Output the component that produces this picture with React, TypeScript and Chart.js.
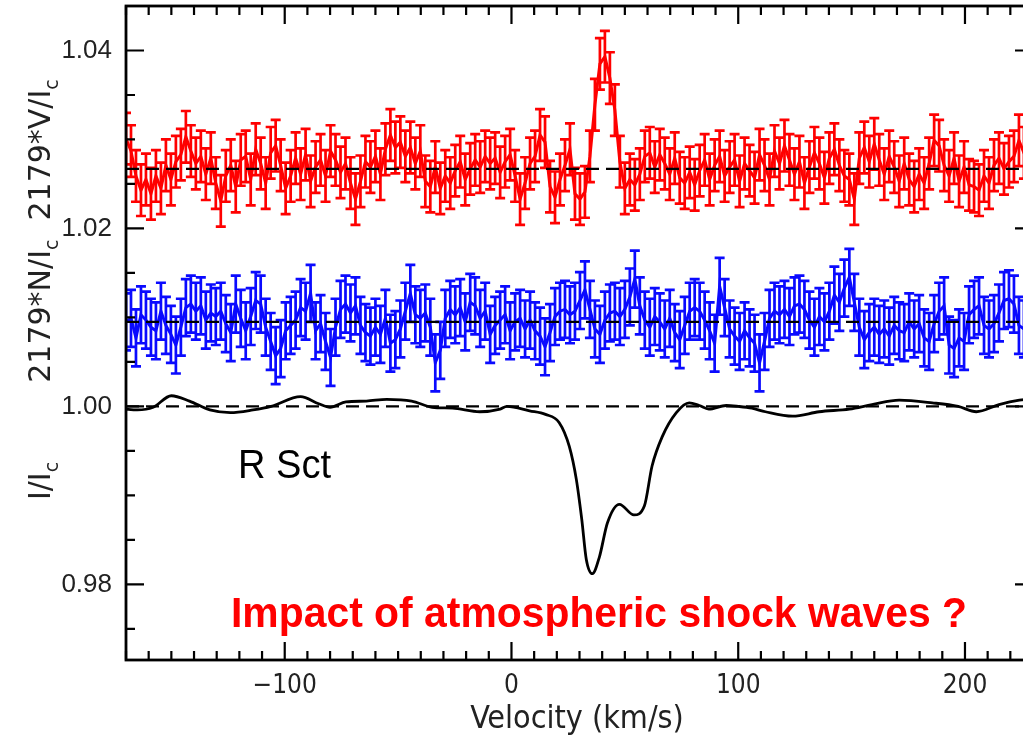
import React, { useEffect, useRef } from "react";
import { Chart, registerables } from "chart.js";
Chart.register(...registerables);

// ---- data ----
const V0 = -170; // first velocity sample (km/s)
const DV = 2.2; // velocity step (km/s)
const RED_BASE = 1.0267; // 2179*V/Ic offset level
const BLUE_BASE = 1.0095; // 2179*N/Ic offset level
const I_BASE = 1.0;
const RED_ERR = 0.0029;
const BLUE_ERR = 0.0032;

// Stokes V (red), offsets from RED_BASE in units of 1e-4
const RED_OFF = [
  34, 20, -8, -24, -12, -28, -8, -22, 4, -12,
  8, 16, 36, 20, 6, 14, -6, 12, -16, -36,
  -8, 4, -20, 10, 14, -12, 22, 6, -16, 18,
  26, 4, -22, -8, 12, -6, 16, -14, 2, 10,
  -8, 20, 10, -4, 6, -16, -34, -14, 8, 2,
  14, -6, 22, 38, 24, 30, 14, 24, 6, 20,
  -14, -20, 2, -22, -8, -16, -2, 8, -12, 0,
  10, 2, 14, 6, 12, -4, 8, 16, -8, -34,
  -16, 6, 14, 38, 30, -20, -32, -12, 4, 22,
  -28, -34, -26, 14, 72, 118, 126, 102, 66, 8,
  -22, -12, -18, -6, 14, 18, 2, 16, 6, -6,
  12, -10, -16, -4, -18, -2, 10, -12, 4, 14,
  -8, 2, 10, -14, 6, -2, -10, 16, 4, -12,
  20, 6, 26, 10, -6, 8, -16, 2, 18, 6,
  -10, 12, 22, 4, -8, -12, -34, 12, 24, 8,
  28, 10, -6, 14, 2, -14, 6, -12, -20, -6,
  -16, 6, 32, 26, 4, -8, 12, -14, 2, -18,
  -20, -24, -8, -16, 4, 12, 0, 8, 14, 32,
  18, 6,
];

// Null profile N (blue), offsets from BLUE_BASE in units of 1e-4
const BLUE_OFF = [
  0, 4, -18, 8, 2, -6, -10, 12, -4, -14,
  -26, -6, 16, 20, 12, 18, 2, 10, 6, 12,
  -2, -12, 20, 4, -10, 6, 24, 20, -6, -22,
  -38, -30, -10, -4, 2, 16, 12, 32, -10, -2,
  -22, -40, -6, 14, 20, 10, 18, -4, -12, -16,
  -6, -14, 4, -24, -20, -8, 12, 32, 8, 4,
  10, -6, -46, -32, 4, 14, 8, 16, 0, 22,
  18, 4, 12, -14, -4, 2, 8, -10, 0, 4,
  -8, 2, -10, -16, -28, -12, 6, 12, 14, 8,
  12, 24, 36, 14, -8, -14, 2, 10, 12, 6,
  14, 28, 48, 18, 2, -6, 6, 0, -8, 4,
  -12, -20, -4, 12, 16, 12, 2, -10, -24, 40,
  16, -8, -16, -22, -10, -18, -24, -46, -22, 4,
  12, 8, 14, 6, 18, 20, 14, 2, -6, 6,
  0, 12, 30, 22, 38, 50, 22, -6, -20, -12,
  -6, -14, -8, -16, -4, -10, -12, 0, -8, -2,
  -18, -22, -2, 12, 18, -26, -30, -18, -22, 8,
  14, 18, -4, -8, -2, 10, 24, 26, 20, -4,
  -8, 6,
];

// Intensity profile I/Ic (black)
const I_VEL = [
  -171, -165, -158, -150, -142, -133, -124, -114, -106, -93, -85, -80, -73, -64, -55, -44,
  -35, -26, -14, -5, -2, 8, 15, 21, 25.5, 28.6, 31, 33, 35.7, 38.8, 42.3, 47.6, 54,
  58.6, 62, 66.5, 72.7, 78.4, 82.8, 87, 94.7, 100, 106, 112, 124, 135.7, 149, 159, 171,
  185.6, 197, 205, 215, 224, 232,
];
const I_VAL = [
  0.9997, 0.9996, 0.9999, 1.0012, 1.0006, 0.9996, 0.9993, 0.9996, 1.0, 1.0011, 1.0003, 0.9999,
  1.0005, 1.0006, 1.0008, 1.0006, 0.9999, 0.9998, 0.9994, 0.9997, 1.0, 0.9995, 0.9991, 0.9982,
  0.9955, 0.9918, 0.9873, 0.9828, 0.9812, 0.9831, 0.9869, 0.989, 0.9878, 0.9888, 0.9933,
  0.9966, 0.9993, 1.0004, 1.0001, 0.9997, 1.0001, 1.0, 0.9998, 0.9994, 0.9989, 0.9994,
  0.9997, 1.0002, 1.0007, 1.0004, 1.0, 0.9994, 1.0002, 1.0007, 1.0009,
];

const X_MIN = -170;
const X_MAX = 230;
const Y_MIN = 0.9715;
const Y_MAX = 1.045;
const X_MAJOR = [-100, 0, 100, 200];
const X_MINOR = [
  -170, -160, -150, -140, -130, -120, -110, -90, -80, -70, -60, -50, -40, -30, -20, -10,
  10, 20, 30, 40, 50, 60, 70, 80, 90, 110, 120, 130, 140, 150, 160, 170, 180, 190, 210, 220, 230,
];
const Y_MAJOR = [0.98, 1.0, 1.02, 1.04];
const Y_MINOR = [0.975, 0.985, 0.99, 0.995, 1.005, 1.01, 1.015, 1.025, 1.03, 1.035, 1.045];

const RED = "#ff0000";
const BLUE = "#0a0aff";

const redPts = RED_OFF.map((o, i) => ({ x: V0 + i * DV, y: RED_BASE + o * 1e-4 }));
const bluePts = BLUE_OFF.map((o, i) => ({ x: V0 + i * DV, y: BLUE_BASE + o * 1e-4 }));
const iPts = I_VEL.map((v, i) => ({ x: v, y: I_VAL[i] }));

const CW = 1035;
const CH = 742;

type Seg = { t: string; sub?: boolean };

function drawRotated(ctx: CanvasRenderingContext2D, segs: Seg[], cx: number, cy: number, size: number, family: string) {
  ctx.save();
  ctx.translate(cx, cy);
  ctx.rotate(-Math.PI / 2);
  ctx.fillStyle = "#222";
  ctx.textBaseline = "alphabetic";
  ctx.textAlign = "left";
  const widths = segs.map((s) => {
    ctx.font = `${s.sub ? Math.round(size * 0.62) : size}px ${family}`;
    return ctx.measureText(s.t).width;
  });
  const total = widths.reduce((a, b) => a + b, 0);
  let x = -total / 2;
  segs.forEach((s, i) => {
    ctx.font = `${s.sub ? Math.round(size * 0.62) : size}px ${family}`;
    ctx.fillText(s.t, x, s.sub ? size * 0.25 : 0);
    x += widths[i];
  });
  ctx.restore();
}

const errorBars = {
  id: "errorBars",
  beforeDatasetsDraw(chart: any) {
    const { ctx, chartArea } = chart;
    const xs = chart.scales.x;
    const ys = chart.scales.y;
    ctx.save();
    ctx.beginPath();
    ctx.rect(chartArea.left, chartArea.top, chartArea.right - chartArea.left, chartArea.bottom - chartArea.top);
    ctx.clip();
    const sets: [typeof redPts, number, string][] = [
      [redPts, RED_ERR, RED],
      [bluePts, BLUE_ERR, BLUE],
    ];
    ctx.lineWidth = 2.7;
    sets.forEach(([pts, err, col]) => {
      ctx.strokeStyle = col;
      ctx.beginPath();
      pts.forEach((p) => {
        const px = xs.getPixelForValue(p.x);
        const y1 = ys.getPixelForValue(p.y + err);
        const y2 = ys.getPixelForValue(p.y - err);
        ctx.moveTo(px, y1);
        ctx.lineTo(px, y2);
        ctx.moveTo(px - 5, y1);
        ctx.lineTo(px + 5, y1);
        ctx.moveTo(px - 5, y2);
        ctx.lineTo(px + 5, y2);
      });
      ctx.stroke();
    });
    ctx.restore();
  },
};

const frameAndText = {
  id: "frameAndText",
  afterDraw(chart: any) {
    const { ctx, chartArea } = chart;
    const xs = chart.scales.x;
    const ys = chart.scales.y;
    const { left, right, top, bottom } = chartArea;
    ctx.save();
    ctx.strokeStyle = "#000";
    ctx.lineWidth = 2.2;
    ctx.beginPath();
    const tick = (vals: number[], len: number) => {
      vals.forEach((v) => {
        const px = xs.getPixelForValue(v);
        ctx.moveTo(px, bottom);
        ctx.lineTo(px, bottom - len);
        ctx.moveTo(px, top);
        ctx.lineTo(px, top + len);
      });
    };
    const ytick = (vals: number[], len: number) => {
      vals.forEach((v) => {
        const py = ys.getPixelForValue(v);
        ctx.moveTo(left, py);
        ctx.lineTo(left + len, py);
        ctx.moveTo(right, py);
        ctx.lineTo(right - len, py);
      });
    };
    tick(X_MAJOR, 18);
    tick(X_MINOR, 9);
    ytick(Y_MAJOR, 18);
    ytick(Y_MINOR, 9);
    ctx.stroke();
    ctx.lineWidth = 2.8;
    ctx.strokeRect(left, top, right - left, bottom - top);

    // axis titles
    drawRotated(ctx, [{ t: "I/I" }, { t: "c", sub: true }], 50, 481, 30, "'DejaVu Sans', sans-serif");
    drawRotated(
      ctx,
      [{ t: "2179*N/I" }, { t: "c", sub: true }, { t: "  2179*V/I" }, { t: "c", sub: true }],
      50,
      231,
      30,
      "'DejaVu Sans', sans-serif"
    );
    ctx.fillStyle = "#222";
    ctx.textAlign = "center";
    ctx.textBaseline = "middle";
    ctx.font = "32px 'DejaVu Sans Condensed', 'Liberation Sans Narrow', sans-serif";
    ctx.fillText("Velocity (km/s)", 577, 720);

    // annotations
    ctx.fillStyle = "#000";
    ctx.textAlign = "left";
    ctx.textBaseline = "alphabetic";
    ctx.font = "40px 'Liberation Sans', sans-serif";
    ctx.fillText("R Sct", 238, 478, 93);
    ctx.fillStyle = RED;
    ctx.font = "bold 43px 'Liberation Sans', sans-serif";
    ctx.fillText("Impact of atmospheric shock waves ?", 231, 627, 736);
    ctx.restore();
  },
};

export default function App() {
  const ref = useRef<HTMLCanvasElement | null>(null);
  useEffect(() => {
    if (!ref.current) return;
    const hline = (y: number) => [
      { x: X_MIN, y },
      { x: X_MAX, y },
    ];
    const chart = new Chart(ref.current, {
      type: "line",
      data: {
        datasets: [
          { data: hline(RED_BASE), borderColor: "#000", borderWidth: 2.4, borderDash: [13, 7], pointRadius: 0, order: 0 },
          { data: hline(BLUE_BASE), borderColor: "#000", borderWidth: 2.4, borderDash: [13, 7], pointRadius: 0, order: 0 },
          { data: hline(I_BASE), borderColor: "#000", borderWidth: 2.2, borderDash: [13, 7], pointRadius: 0, order: 0 },
          { data: redPts, borderColor: RED, borderWidth: 3, pointRadius: 0, tension: 0, order: 1 },
          { data: bluePts, borderColor: BLUE, borderWidth: 3, pointRadius: 0, tension: 0, order: 1 },
          {
            data: iPts,
            borderColor: "#000",
            borderWidth: 2.8,
            pointRadius: 0,
            cubicInterpolationMode: "monotone",
            order: 1,
          },
        ],
      },
      options: {
        responsive: false,
        devicePixelRatio: 1,
        animation: false,
        events: [],
        layout: { padding: { top: 6, right: 2, left: 0, bottom: 0 } },
        plugins: { legend: { display: false }, tooltip: { enabled: false } },
        scales: {
          x: {
            type: "linear",
            min: X_MIN,
            max: X_MAX,
            grid: { display: false },
            border: { display: false },
            afterBuildTicks: (axis: any) => {
              axis.ticks = X_MAJOR.map((v) => ({ value: v }));
            },
            afterFit: (axis: any) => {
              axis.height = CH - 660;
              axis.paddingLeft = 0;
              axis.paddingRight = 0;
            },
            ticks: {
              autoSkip: false,
              maxRotation: 0,
              padding: 3,
              color: "#222",
              font: { family: "'DejaVu Sans Condensed', 'Liberation Sans Narrow', sans-serif", size: 26 },
              callback: (v: any) => (Number(v) < 0 ? "\u2212" + Math.abs(Number(v)) : String(v)),
            },
          },
          y: {
            type: "linear",
            min: Y_MIN,
            max: Y_MAX,
            grid: { display: false },
            border: { display: false },
            afterBuildTicks: (axis: any) => {
              axis.ticks = Y_MAJOR.map((v) => ({ value: v }));
            },
            afterFit: (axis: any) => {
              axis.width = 126;
              axis.paddingTop = 0;
              axis.paddingBottom = 0;
            },
            ticks: {
              padding: 6,
              color: "#222",
              font: { family: "'Liberation Sans', sans-serif", size: 26 },
              callback: (v: any) => Number(v).toFixed(2),
            },
          },
        },
      },
      plugins: [errorBars, frameAndText],
    } as any);
    return () => chart.destroy();
  }, []);
  return (
    <div
      style={{
        position: "fixed",
        left: 0,
        top: 0,
        width: 1023,
        height: 742,
        overflow: "hidden",
        background: "#fff",
      }}
    >
      <canvas ref={ref} width={CW} height={CH} style={{ display: "block", width: CW, height: CH }} />
    </div>
  );
}
